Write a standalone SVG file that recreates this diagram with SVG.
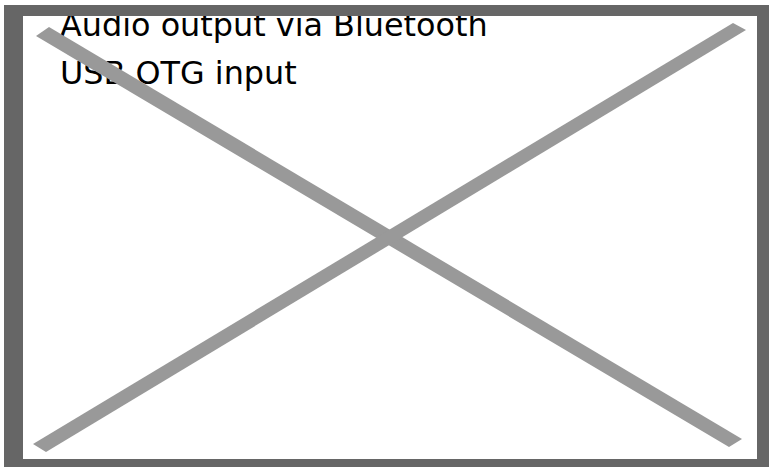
<svg xmlns="http://www.w3.org/2000/svg" width="769" height="467" viewBox="0 0 769 467">
<style>
.t{font-family:"DejaVu Sans",sans-serif;font-size:31.85px;fill:#000}
.x{fill:#999}
</style>
<rect width="769" height="467" fill="#fff"/>
<text class="t" x="60" y="35.5">Audio output via Bluetooth</text>
<text class="t" x="60" y="83.5">USB OTG input</text>
<polygon class="x" points="36,36 49,27 742,439 729,447"/>
<polygon class="x" points="733,23 746,30 46,452 33,444"/>
<path fill="#666" fill-rule="evenodd" d="M4 5H769V467H4ZM23 16V459H757V16Z"/>
</svg>
